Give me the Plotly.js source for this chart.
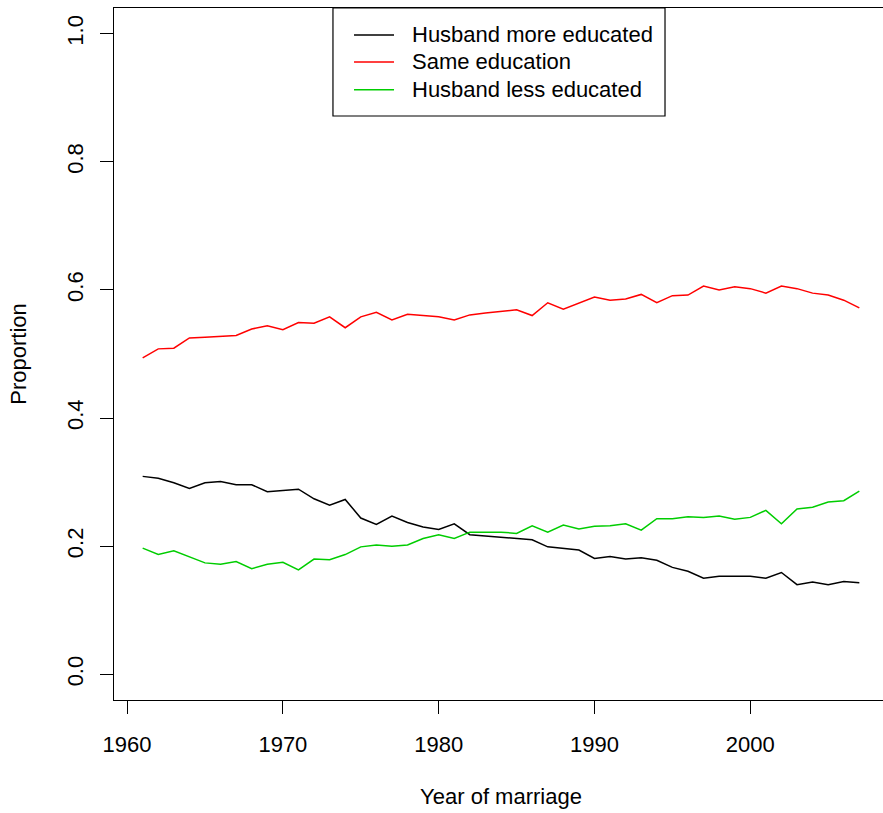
<!DOCTYPE html>
<html>
<head>
<meta charset="utf-8">
<script src="https://cdn.plot.ly/plotly-3.0.1.min.js"></script>
<style>
html, body { margin: 0; padding: 0; overflow: hidden; background: #fff; }
#chart { width: 895px; height: 813px; }
</style>
</head>
<body>
<div id="chart"></div>
<script>
const years = [];
for (let y = 1961; y <= 2007; y++) years.push(y);

const husbandMore = [
  0.309, 0.306, 0.299, 0.290, 0.299, 0.301, 0.296, 0.296, 0.285, 0.287,
  0.289, 0.274, 0.264, 0.273, 0.244, 0.234, 0.247, 0.237, 0.230, 0.226,
  0.235, 0.218, 0.216, 0.213, 0.212, 0.210, 0.199, 0.197, 0.194, 0.181,
  0.184, 0.180, 0.182, 0.178, 0.167, 0.161, 0.150, 0.153, 0.153, 0.153,
  0.150, 0.159, 0.140, 0.144, 0.140, 0.145, 0.143
];
const sameEducation = [
  0.494, 0.508, 0.509, 0.525, 0.526, 0.527, 0.529, 0.539, 0.544, 0.538,
  0.549, 0.548, 0.558, 0.541, 0.558, 0.565, 0.553, 0.562, 0.560, 0.558,
  0.553, 0.561, 0.564, 0.566, 0.569, 0.560, 0.580, 0.570, 0.580, 0.589,
  0.584, 0.586, 0.593, 0.580, 0.591, 0.592, 0.606, 0.600, 0.605, 0.602,
  0.595, 0.606, 0.602, 0.595, 0.592, 0.584, 0.572
];
const husbandLess = [
  0.197, 0.187, 0.193, 0.184, 0.174, 0.172, 0.176, 0.165, 0.172, 0.175,
  0.163, 0.180, 0.179, 0.187, 0.199, 0.202, 0.200, 0.202, 0.212, 0.218,
  0.212, 0.222, 0.222, 0.222, 0.220, 0.232, 0.222, 0.233, 0.227, 0.231,
  0.232, 0.235, 0.225, 0.243, 0.243, 0.246, 0.245, 0.247, 0.242, 0.245,
  0.256, 0.235, 0.258, 0.261, 0.269, 0.271, 0.286
];

const seriesNames = ["Husband more educated", "Same education", "Husband less educated"];
const seriesColors = ["#000000", "#FF0000", "#00CD00"];
const xTicks = [1960, 1970, 1980, 1990, 2000];
const yTicks = [0.0, 0.2, 0.4, 0.6, 0.8, 1.0];

const FONT = "Liberation Sans, Arial, Helvetica, sans-serif";
const FS = 22;

const seriesValues = [husbandMore, sameEducation, husbandLess];
const traces = seriesValues.map((vals, i) => ({
  x: years, y: vals, name: seriesNames[i], mode: "lines",
  line: { color: seriesColors[i], width: 1.5 }, showlegend: false
}));

// Legend box drawn in paper coordinates (R-style legend in the top area)
const legLeft = 0.2829, legRight = 0.7119, legTop = 1.0, legBottom = 0.8439;
const legLineX0 = 0.3101, legLineX1 = 0.3618, legTextX = 0.3824;
const legRowY = [0.961, 0.922, 0.882];

const shapes = [{
  type: "rect", xref: "paper", yref: "paper",
  x0: legLeft, x1: legRight, y0: legBottom, y1: legTop,
  line: { color: "#000000", width: 1.2 }, fillcolor: "#ffffff", layer: "above"
}];
const annotations = [];
seriesNames.forEach((name, i) => {
  shapes.push({
    type: "line", xref: "paper", yref: "paper",
    x0: legLineX0, x1: legLineX1, y0: legRowY[i], y1: legRowY[i],
    line: { color: seriesColors[i], width: 1.5 }, layer: "above"
  });
  annotations.push({
    xref: "paper", yref: "paper", x: legTextX, y: legRowY[i],
    xanchor: "left", yanchor: "middle", showarrow: false,
    text: name, font: { family: FONT, size: FS, color: "#000000" }
  });
});

const layout = {
  width: 895,
  height: 813,
  margin: { l: 114, r: 7, t: 8, b: 113 },
  paper_bgcolor: "#ffffff",
  plot_bgcolor: "#ffffff",
  font: { family: FONT, size: FS, color: "#000000" },
  showlegend: false,
  shapes: shapes,
  annotations: annotations,
  xaxis: {
    range: [1959.16, 2008.84],
    tickmode: "array", tickvals: xTicks, ticktext: xTicks.map(String),
    ticks: "outside", ticklen: 13, tickwidth: 1, tickcolor: "#000000",
    ticklabelstandoff: 11,
    showgrid: false, zeroline: false,
    showline: true, mirror: true, linecolor: "#000000", linewidth: 1.2,
    tickfont: { family: FONT, size: FS },
    title: { text: "Year of marriage", font: { family: FONT, size: FS }, standoff: 33 }
  },
  yaxis: {
    range: [-0.04, 1.04],
    tickmode: "array", tickvals: yTicks, ticktext: yTicks.map(v => v.toFixed(1)),
    tickangle: -90,
    ticks: "outside", ticklen: 13, tickwidth: 1, tickcolor: "#000000",
    ticklabelstandoff: 8,
    showgrid: false, zeroline: false,
    showline: true, mirror: true, linecolor: "#000000", linewidth: 1.2,
    tickfont: { family: FONT, size: FS },
    title: { text: "Proportion", font: { family: FONT, size: FS }, standoff: 30 }
  }
};

Plotly.newPlot("chart", traces, layout, { displayModeBar: false, staticPlot: true });
</script>
</body>
</html>
